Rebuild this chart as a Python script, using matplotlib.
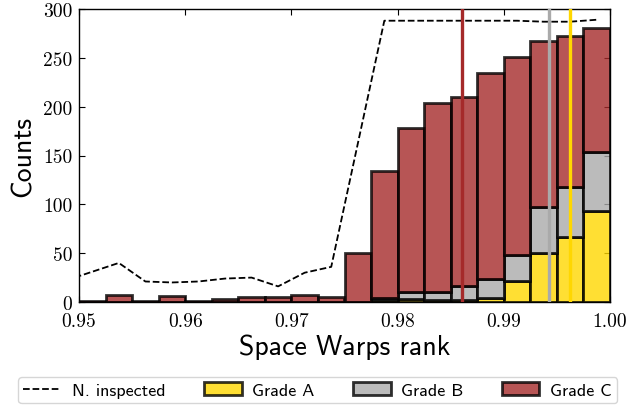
import numpy as np
import matplotlib
matplotlib.use("Agg")
import matplotlib.pyplot as plt
from matplotlib.lines import Line2D
from matplotlib.patches import Patch

# ---- data ----
bin_edges = [0.95 + 0.0025 * i for i in range(21)]
grade_a = [0, 0, 0, 0, 0, 0, 0, 0, 0, 0, 0, 2, 3, 2, 2, 4, 21, 50, 67, 93]
grade_b = [0, 0, 0, 0, 0, 0, 0, 0, 0, 0, 0, 2, 7, 8, 14, 20, 27, 47, 51, 61]
grade_c = [1, 7, 1, 6, 1, 3, 5, 5, 7, 5, 50, 130, 168, 194, 194, 210, 203, 170, 154, 127]

inspected_x = [0.94875 + 0.0025 * i for i in range(21)]
inspected = [22, 31, 40, 21, 20, 21, 24, 25, 16, 30, 36, 162, 288, 288, 288,
             288, 288, 288, 287, 287, 289]

vlines = [0.9861, 0.9943, 0.9962]
vline_colors = ["#A52A2A", "#AAAAAA", "#FFD700"]

xticks = [0.95, 0.96, 0.97, 0.98, 0.99, 1.00]
yticks = [0, 50, 100, 150, 200, 250, 300]

col_a, col_b, col_c = "#FFD700", "#AAAAAA", "#A52A2A"

fig = plt.figure(figsize=(6.27, 4.10), dpi=100)
ax = fig.add_axes([79 / 627, 1 - 303 / 410, 531 / 627, 293 / 410])

edges = np.array(bin_edges)
lefts = edges[:-1]
width = edges[1] - edges[0]
a = np.array(grade_a)
b = np.array(grade_b)
c = np.array(grade_c)

kw = dict(width=width, align="edge", edgecolor="black", linewidth=2.0, alpha=0.8)
ax.bar(lefts, a, color=col_a, **kw, zorder=2)
ax.bar(lefts, b, bottom=a, color=col_b, **kw, zorder=2)
ax.bar(lefts, c, bottom=a + b, color=col_c, **kw, zorder=2)

ax.plot(inspected_x, inspected, "--", color="black", lw=1.3, zorder=3)

for xv, cv in zip(vlines, vline_colors):
    ax.axvline(xv, color=cv, lw=2.4, zorder=4)

ax.set_xlim(0.95, 1.0)
ax.set_ylim(0, 300)
ax.set_xticks(xticks)
ax.set_yticks(yticks)
ax.set_xticklabels(["%.2f" % t for t in xticks], family="cmr10", fontsize=14)
ax.set_yticklabels([str(t) for t in yticks], family="cmr10", fontsize=14)
ax.tick_params(direction="in", top=True, right=True, length=4, width=0.8, pad=5)
ax.tick_params(axis="x", pad=7)
for s in ax.spines.values():
    s.set_linewidth(1.0)

ax.set_xlabel("Space Warps rank", family="cmss10", fontsize=20, labelpad=3)
ax.set_ylabel("Counts", family="cmss10", fontsize=20, labelpad=5)

handles = [
    Line2D([0], [0], ls="--", color="black", lw=1.3),
    Patch(facecolor=col_a, edgecolor="black", lw=2.0, alpha=0.8),
    Patch(facecolor=col_b, edgecolor="black", lw=2.0, alpha=0.8),
    Patch(facecolor=col_c, edgecolor="black", lw=2.0, alpha=0.8),
]
labels = ["N. inspected", "Grade A", "Grade B", "Grade C"]
fig.legend(handles, labels, ncol=4, loc="upper left",
           bbox_to_anchor=(18 / 627, 1 - 378 / 410),
           bbox_transform=fig.transFigure, borderaxespad=0,
           handlelength=2.1, handletextpad=0.6, columnspacing=2.1,
           borderpad=0.3,
           prop={"family": "cmss10", "size": 13})

fig.savefig("out.png", dpi=100)
